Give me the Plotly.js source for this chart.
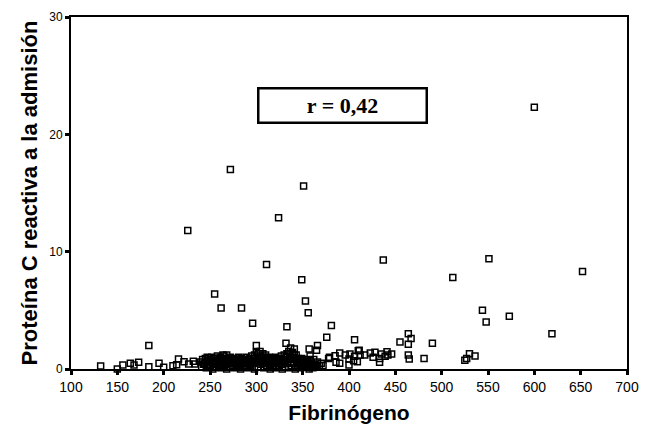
<!DOCTYPE html>
<html>
<head>
<meta charset="utf-8">
<script src="https://cdn.plot.ly/plotly-3.0.1.min.js"></script>
<style>html,body{margin:0;padding:0;background:#fff;}#chart{width:653px;height:425px;}</style>
</head>
<body>
<div id="chart"></div>
<script>
// Sparse / outlying points: fibrinógeno (x) and proteína C reactiva (y)
const sparseX = [600, 272, 351, 324, 226, 311, 437, 551, 652, 349, 512, 255, 353, 262, 284, 356, 544, 548, 573, 619,
  296, 333, 381, 376, 406, 300, 332, 184, 455, 464, 467, 464, 490, 366, 357, 365, 358, 341, 339, 341,
  411, 464, 465, 481, 530, 536, 527, 525];
const sparseY = [22.3, 17.0, 15.6, 12.9, 11.8, 8.9, 9.3, 9.4, 8.3, 7.6, 7.8, 6.4, 5.8, 5.2, 5.2, 4.8, 5.0, 4.0, 4.5, 3.0,
  3.9, 3.6, 3.7, 2.7, 2.5, 2.0, 2.2, 2.0, 2.3, 3.0, 2.6, 2.1, 2.2, 2.0, 1.7, 1.6, 1.1, 1.7, 1.4, 1.2,
  1.6, 1.2, 0.85, 0.9, 1.3, 1.1, 0.9, 0.75];

// Low values, left side
const leftX = [132, 150, 156, 164, 168, 173, 184, 195, 200, 210, 216, 214, 222, 227, 232, 234, 247, 255, 248, 264, 261];
const leftY = [0.25, 0.0, 0.35, 0.5, 0.35, 0.57, 0.2, 0.5, 0.15, 0.28, 0.85, 0.37, 0.62, 0.43, 0.65, 0.43, 1.0, 0.9, 0.28, 1.2, 0.57];

// Low values, right band (375-450)
const bandX = [379, 385, 390, 396, 401, 406, 400, 410, 412, 405, 409, 417, 423, 428, 426, 433, 435, 441, 442, 446, 439, 433, 386, 390, 400, 378];
const bandY = [1.0, 1.13, 1.36, 1.19, 1.28, 1.08, 0.85, 1.56, 1.19, 0.7, 0.62, 1.19, 1.36, 1.42, 1.0, 0.9, 1.28, 1.47, 1.19, 1.28, 1.08, 0.57, 0.57, 0.5, 0.34, 0.9];

// Dense cluster (240-372), upper layer
const denseX = [240, 242, 244, 245, 247, 249, 250, 251, 252, 254, 255, 256, 257, 258, 259, 260, 261, 262, 263, 264, 265, 266, 267, 268, 269,
  270, 271, 272, 273, 274, 275, 276, 277, 278, 279, 280, 281, 282, 283, 284, 285, 286, 287, 288, 289, 290, 291, 292, 293, 294, 295,
  296, 297, 298, 299, 300, 301, 302, 303, 304, 305, 306, 307, 308, 309, 310, 311, 312, 313, 314, 315, 316, 317, 318, 319, 320, 321,
  322, 323, 324, 325, 326, 327, 328, 329, 330, 331, 332, 333, 334, 335, 336, 337, 338, 339, 340, 342, 343, 344, 345, 346, 347, 348,
  349, 350, 352, 354, 355, 356, 358, 360, 362, 364, 366, 368, 370, 372];
const denseY = [0.6, 0.8, 0.5, 0.9, 0.7, 0.4, 0.8, 0.6, 1.0, 0.5, 0.7, 0.9, 0.4, 1.1, 0.6, 0.8, 1.0, 0.5, 0.7, 0.9, 1.1, 0.6, 0.8, 1.2, 0.5,
  0.9, 0.7, 1.0, 0.6, 0.8, 0.5, 0.9, 0.7, 0.4, 0.8, 0.6, 1.0, 0.5, 0.7, 0.9, 0.6, 0.8, 0.5, 0.7, 1.0, 0.6, 0.8, 0.5, 0.9, 0.7, 1.1,
  0.6, 0.9, 1.2, 0.7, 1.4, 1.0, 1.3, 0.8, 1.5, 1.1, 0.9, 1.3, 0.7, 1.0, 1.2, 0.6, 0.9, 0.7, 1.0, 0.5, 0.8, 0.6, 0.9, 0.5, 0.7, 1.0,
  0.6, 0.8, 0.5, 0.9, 0.7, 1.1, 0.6, 0.8, 1.2, 0.7, 1.0, 1.3, 0.8, 1.5, 1.1, 1.8, 0.9, 1.3, 1.0, 0.8, 1.2, 0.6, 0.9, 0.5, 0.8, 0.6,
  0.9, 0.7, 0.5, 0.8, 0.6, 0.4, 0.7, 0.5, 0.8, 0.4, 0.6, 0.3, 0.5, 0.3];

// Dense cluster, lower layer
const lowX = [241, 246, 250, 253, 257, 261, 265, 268, 272, 276, 280, 283, 287, 291, 294, 298, 302, 305, 308, 311, 315, 318, 321, 325, 328,
  331, 335, 338, 342, 345, 348, 352, 357, 361, 365];
const lowY = [0.2, 0.1, 0.3, 0.0, 0.2, 0.1, 0.3, 0.0, 0.2, 0.1, 0.3, 0.0, 0.2, 0.1, 0.3, 0.0, 0.2, 0.4, 0.1, 0.3, 0.0, 0.2, 0.1, 0.3, 0.0,
  0.2, 0.1, 0.3, 0.0, 0.2, 0.1, 0.2, 0.0, 0.1, 0.2];

// Dense cluster, extra middle layer
const midX = [243, 248, 253, 259, 263, 267, 270, 274, 278, 282, 286, 289, 293, 297, 301, 304, 307, 310, 314, 317, 320, 324, 327, 330, 334,
  337, 340, 344, 347, 351, 355, 359, 363];
const midY = [0.4, 0.6, 0.5, 0.3, 0.5, 0.4, 0.6, 0.3, 0.6, 0.4, 0.3, 0.5, 0.4, 0.5, 0.7, 0.6, 0.5, 0.8, 0.4, 0.3, 0.5, 0.3, 0.4, 0.6, 0.5,
  0.6, 0.5, 0.3, 0.4, 0.3, 0.3, 0.4, 0.3];

const xTicks = [100, 150, 200, 250, 300, 350, 400, 450, 500, 550, 600, 650, 700];
const yTicks = [0, 10, 20, 30];

const allX = [].concat(sparseX, leftX, bandX, denseX, lowX, midX);
const allY = [].concat(sparseY, leftY, bandY, denseY, lowY, midY);

const trace = {
  x: allX, y: allY, type: 'scatter', mode: 'markers', cliponaxis: false,
  marker: {symbol: 'square-open', size: 6, color: '#000', line: {width: 1.5, color: '#000'}},
  hoverinfo: 'x+y'
};

const font = "'Liberation Sans', Arial, Helvetica, sans-serif";
const layout = {
  width: 653, height: 425,
  margin: {l: 71, r: 26, t: 17, b: 56},
  paper_bgcolor: '#fff', plot_bgcolor: '#fff',
  showlegend: false,
  font: {family: font, color: '#000'},
  xaxis: {
    range: [100, 700], tickvals: xTicks, ticktext: xTicks.map(String),
    showgrid: false, zeroline: false,
    showline: true, linecolor: '#000', linewidth: 2, mirror: true,
    ticks: 'outside', ticklen: 4, tickwidth: 3, tickcolor: '#000',
    tickfont: {size: 14, family: font, color: '#000'},
    title: {text: 'Fibrinógeno', font: {size: 21, family: font, weight: 'bold', color: '#000'}, standoff: 12},
    fixedrange: true
  },
  yaxis: {
    range: [0, 30], tickvals: yTicks, ticktext: yTicks.map(String),
    showgrid: false, zeroline: false,
    showline: true, linecolor: '#000', linewidth: 2, mirror: true,
    ticks: 'outside', ticklen: 4, tickwidth: 3, tickcolor: '#000',
    tickfont: {size: 12, family: font, color: '#000'},
    title: {text: 'Proteína C reactiva a la admisión', font: {size: 22, family: font, weight: 'bold', color: '#000'}, standoff: 6},
    fixedrange: true
  },
  annotations: [{
    xref: 'paper', yref: 'paper', x: 0.4883, y: 0.7486, xanchor: 'center', yanchor: 'middle',
    text: '<b>r = 0,42</b>', showarrow: false,
    font: {family: "'Liberation Serif', 'Times New Roman', serif", size: 22, color: '#000'},
    bordercolor: '#000', borderwidth: 2.5, borderpad: 0, bgcolor: '#fff',
    width: 166, height: 32
  }]
};

Plotly.newPlot('chart', [trace], layout, {displayModeBar: false, staticPlot: true});
</script>
</body>
</html>
